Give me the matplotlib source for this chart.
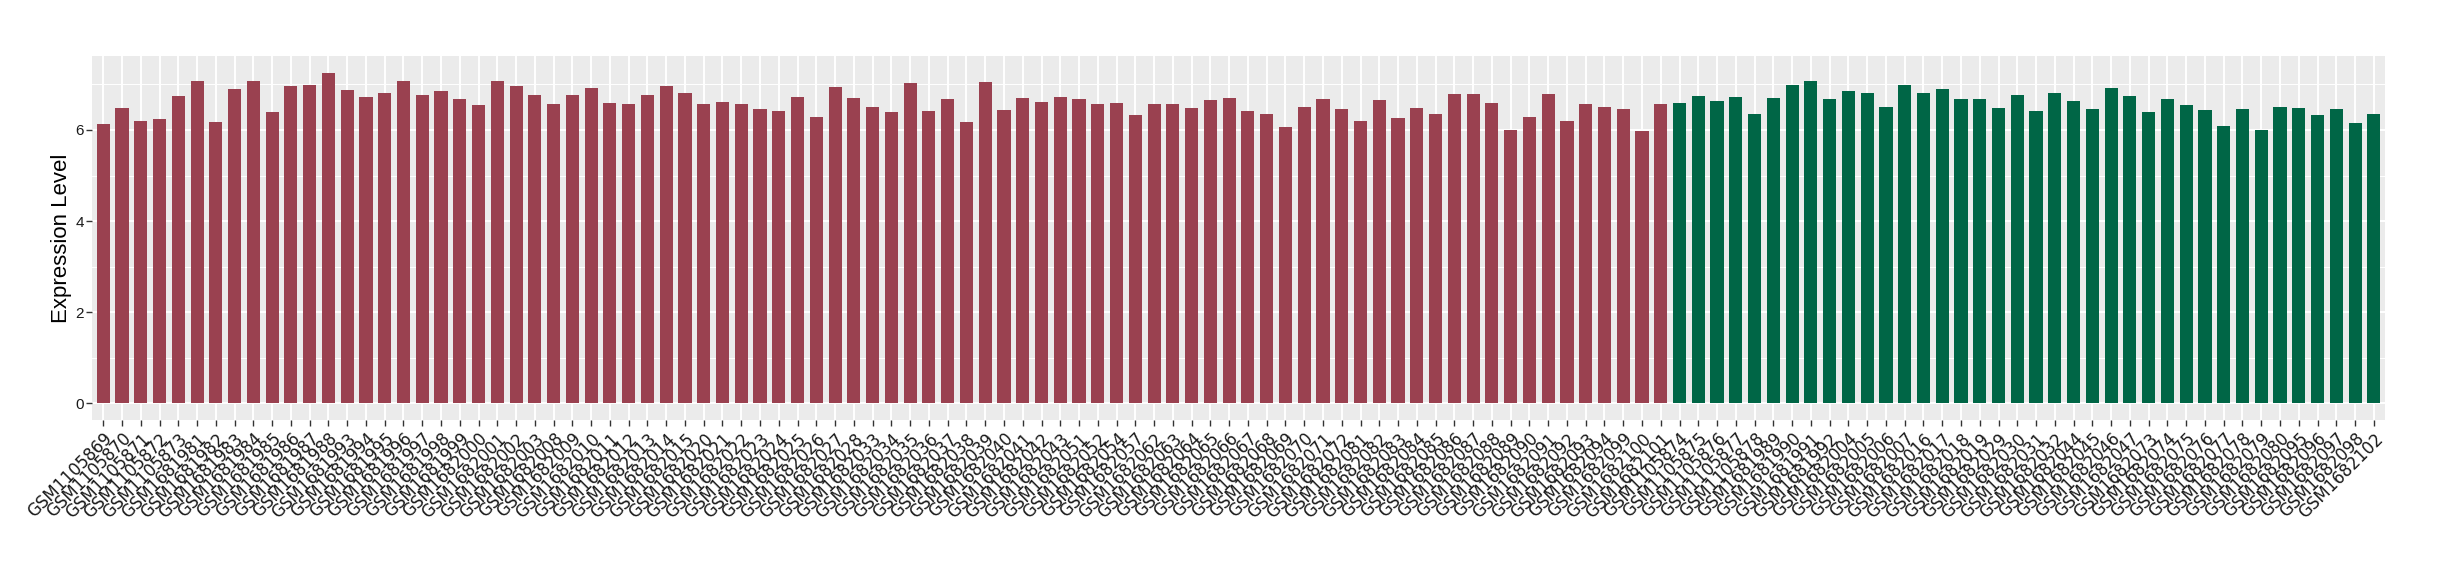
import numpy as np
import matplotlib
matplotlib.use('Agg')
import matplotlib.pyplot as plt

# sample ids, in plotting order
red_samples = ['GSM1105869', 'GSM1105870', 'GSM1105871', 'GSM1105872', 'GSM1105873',
               'GSM1681981', 'GSM1681982', 'GSM1681983', 'GSM1681984', 'GSM1681985',
               'GSM1681986', 'GSM1681987', 'GSM1681988', 'GSM1681993', 'GSM1681994',
               'GSM1681995', 'GSM1681996', 'GSM1681997', 'GSM1681998', 'GSM1681999',
               'GSM1682000', 'GSM1682001', 'GSM1682002', 'GSM1682003', 'GSM1682008',
               'GSM1682009', 'GSM1682010', 'GSM1682011', 'GSM1682012', 'GSM1682013',
               'GSM1682014', 'GSM1682015', 'GSM1682020', 'GSM1682021', 'GSM1682022',
               'GSM1682023', 'GSM1682024', 'GSM1682025', 'GSM1682026', 'GSM1682027',
               'GSM1682028', 'GSM1682033', 'GSM1682034', 'GSM1682035', 'GSM1682036',
               'GSM1682037', 'GSM1682038', 'GSM1682039', 'GSM1682040', 'GSM1682041',
               'GSM1682042', 'GSM1682043', 'GSM1682051', 'GSM1682052', 'GSM1682054',
               'GSM1682057', 'GSM1682062', 'GSM1682063', 'GSM1682064', 'GSM1682065',
               'GSM1682066', 'GSM1682067', 'GSM1682068', 'GSM1682069', 'GSM1682070',
               'GSM1682071', 'GSM1682072', 'GSM1682081', 'GSM1682082', 'GSM1682083',
               'GSM1682084', 'GSM1682085', 'GSM1682086', 'GSM1682087', 'GSM1682088',
               'GSM1682089', 'GSM1682090', 'GSM1682091', 'GSM1682092', 'GSM1682093',
               'GSM1682094', 'GSM1682099', 'GSM1682100', 'GSM1682101']
green_samples = ['GSM1105874', 'GSM1105875', 'GSM1105876', 'GSM1105877', 'GSM1105878',
                 'GSM1681989', 'GSM1681990', 'GSM1681991', 'GSM1681992', 'GSM1682004',
                 'GSM1682005', 'GSM1682006', 'GSM1682007', 'GSM1682016', 'GSM1682017',
                 'GSM1682018', 'GSM1682019', 'GSM1682029', 'GSM1682030', 'GSM1682031',
                 'GSM1682032', 'GSM1682044', 'GSM1682045', 'GSM1682046', 'GSM1682047',
                 'GSM1682073', 'GSM1682074', 'GSM1682075', 'GSM1682076', 'GSM1682077',
                 'GSM1682078', 'GSM1682079', 'GSM1682080', 'GSM1682095', 'GSM1682096',
                 'GSM1682097', 'GSM1682098', 'GSM1682102']

red_values = [6.13, 6.49, 6.19, 6.24, 6.75, 7.07, 6.17, 6.90, 7.07, 6.39,
              6.96, 6.99, 7.26, 6.88, 6.73, 6.81, 7.07, 6.77, 6.86, 6.69,
              6.54, 7.07, 6.96, 6.77, 6.58, 6.77, 6.92, 6.60, 6.58, 6.77,
              6.96, 6.81, 6.58, 6.62, 6.56, 6.45, 6.41, 6.73, 6.28, 6.94,
              6.71, 6.51, 6.39, 7.03, 6.41, 6.69, 6.17, 7.05, 6.43, 6.71,
              6.62, 6.73, 6.69, 6.58, 6.60, 6.32, 6.58, 6.58, 6.49, 6.66,
              6.71, 6.41, 6.36, 6.06, 6.51, 6.69, 6.45, 6.19, 6.66, 6.26,
              6.49, 6.34, 6.79, 6.79, 6.60, 6.00, 6.28, 6.79, 6.19, 6.58,
              6.51, 6.45, 5.98, 6.56]
green_values = [6.60, 6.75, 6.64, 6.73, 6.36, 6.71, 6.99, 7.07, 6.69, 6.86,
                6.81, 6.51, 6.99, 6.81, 6.90, 6.69, 6.69, 6.49, 6.77, 6.41,
                6.81, 6.64, 6.47, 6.92, 6.75, 6.39, 6.69, 6.54, 6.43, 6.09,
                6.45, 6.00, 6.51, 6.49, 6.32, 6.45, 6.15, 6.36]

red_color = '#9A4150'
green_color = '#006646'

samples = red_samples + green_samples
values = red_values + green_values
colors = [red_color] * len(red_samples) + [green_color] * len(green_samples)

fig = plt.figure(figsize=(24.4, 5.8), dpi=100)
ax = fig.add_axes([0.0377, 0.2759, 0.9398, 0.6275])

x = np.arange(len(samples))
ax.bar(x, values, width=0.7, color=colors, zorder=3)

# ggplot-like grey panel
ax.set_facecolor('#EBEBEB')
for s in ax.spines.values():
    s.set_visible(False)
ax.set_xlim(-0.6, len(samples) - 0.4)
ymax = max(values)
ax.set_ylim(-0.05 * ymax, 1.05 * ymax)
ax.set_yticks([0, 2, 4, 6])
ax.set_yticks([1, 3, 5, 7], minor=True)
ax.set_xticks(x)
ax.grid(which='major', color='white', linewidth=1.4, zorder=0)
ax.grid(which='minor', axis='y', color='white', linewidth=0.7, zorder=0)
ax.set_axisbelow(True)

ax.set_xticklabels(samples, rotation=45, ha='right', rotation_mode='anchor',
                   fontsize=12, family='DejaVu Sans', color='#1a1a1a')
ax.tick_params(axis='x', length=4, width=1, color='#333333', pad=3)
ax.tick_params(axis='y', which='major', length=4, width=1, color='#333333',
               labelsize=11, labelcolor='#1a1a1a', pad=2)
ax.tick_params(axis='y', which='minor', length=0)
for t in ax.get_yticklabels():
    t.set_family('Liberation Sans')

ax.set_ylabel('Expression Level', fontsize=16, family='Liberation Sans',
              color='black')
ax.yaxis.set_label_coords(-0.0085, 0.5)

fig.savefig('out.png', dpi=100)
